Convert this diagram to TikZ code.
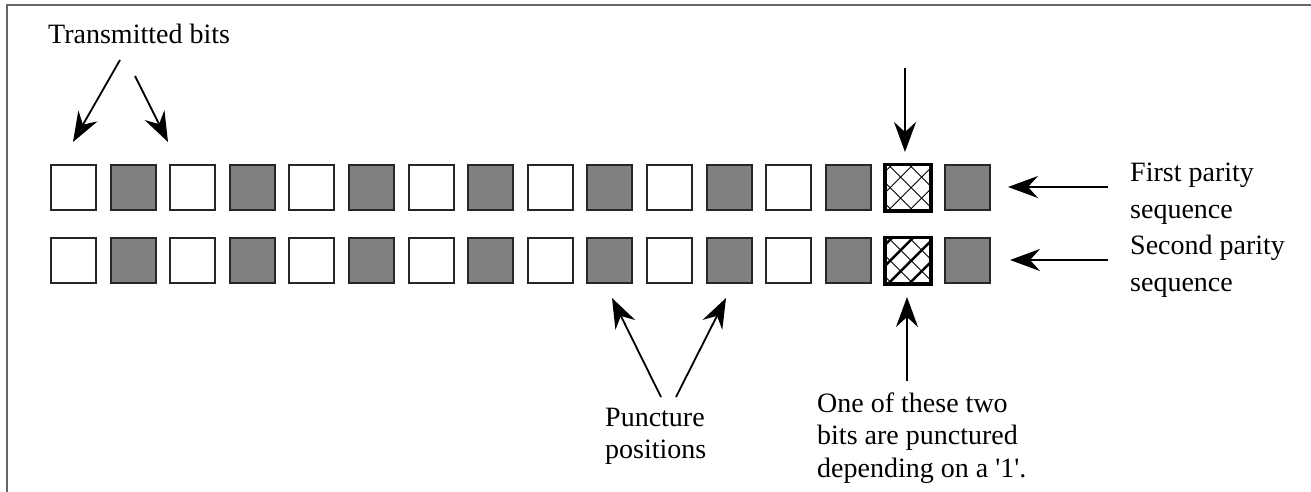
\documentclass[tikz,border=0pt]{standalone}
\usepackage{fontspec}
\setmainfont{Liberation Serif}
\usetikzlibrary{arrows.meta}
\begin{document}
\begin{tikzpicture}[x=1pt,y=-1pt,
  bitbox/.style={line width=2pt, draw=black!85, minimum size=45pt, inner sep=0pt, anchor=north west},
  zero/.style={bitbox, fill=white},
  one/.style={bitbox, fill=black!50},
  hatch/.style={bitbox, fill=white, line width=2.4pt, draw=black},
  ptr/.style={line width=1.8pt, -{Stealth[length=30pt,width=22pt,inset=10pt]}},
  lbl/.style={font=\fontsize{28}{32.5}\selectfont, inner sep=0pt, align=left, anchor=base west},
  lblw/.style={lbl, font=\fontsize{28}{36.5}\selectfont}]
\useasboundingbox (0,0) rectangle (1311,492);
\draw[line width=2pt, draw=black!60] (7,492) -- (7,5) -- (1311,5);
% bits
\foreach \i in {0,...,15}{
  \pgfmathsetmacro{\xx}{50+59.6*\i}
  \ifnum\i=14
    \node[hatch] (a\i) at (\xx,164) {};
    \node[hatch] (b\i) at (\xx,237) {};
  \else
    \ifodd\i
      \node[one] (a\i) at (\xx,164) {};
      \node[one] (b\i) at (\xx,237) {};
    \else
      \node[zero] (a\i) at (\xx,164) {};
      \node[zero] (b\i) at (\xx,237) {};
    \fi
  \fi
}
% hatching
\begin{scope}
  \clip (a14.north west) rectangle (a14.south east);
  \foreach \c in {-60,-39,...,60}{
    \draw[line width=0.9pt] ([xshift=\c pt]a14.north west) -- ++(60,60);
    \draw[line width=0.9pt] ([xshift=\c pt]a14.north east) -- ++(-60,60);
  }
\end{scope}
\begin{scope}
  \clip (b14.north west) rectangle (b14.south east);
  \foreach \c in {-60,-39,...,60}{
    \draw[line width=0.9pt] ([xshift=\c pt]b14.north west) -- ++(60,60);
    \draw[line width=2.4pt] ([xshift=\c pt]b14.north east) -- ++(-60,60);
  }
\end{scope}
\draw[hatch, fill=none] (a14.north west) rectangle (a14.south east);
\draw[hatch, fill=none] (b14.north west) rectangle (b14.south east);
% labels (base anchor = last line)
\node[lbl] (tb) at (48,44) {Transmitted bits};
\node[lblw] (fp) at (1130,218) {First parity\\sequence};
\node[lblw] (sp) at (1130,291) {Second parity\\sequence};
\node[lbl] (pp) at (605,458.5) {Puncture\\positions};
\node[lbl] (ot) at (817,477) {One of these two\\bits are punctured\\depending on a \textquotesingle 1\textquotesingle .};
% coordinates
\coordinate (t1s) at (120,60);  \coordinate (t1e) at (73,142);
\coordinate (t2s) at (135,76);  \coordinate (t2e) at (168,142);
\coordinate (ds) at (905,68);   \coordinate (de) at (905,152);
\coordinate (us) at (907,381);  \coordinate (ue) at (907,297);
\coordinate (r1s) at (1108,187); \coordinate (r1e) at (1008,187);
\coordinate (r2s) at (1108,260); \coordinate (r2e) at (1010,260);
\coordinate (p1s) at (661,397); \coordinate (p1e) at (612,298);
\coordinate (p2s) at (676,397); \coordinate (p2e) at (726,298);
\draw[ptr] (t1s) -- (t1e);
\draw[ptr] (t2s) -- (t2e);
\draw[ptr] (ds) -- (de);
\draw[ptr] (us) -- (ue);
\draw[ptr] (r1s) -- (r1e);
\draw[ptr] (r2s) -- (r2e);
\draw[ptr] (p1s) -- (p1e);
\draw[ptr] (p2s) -- (p2e);
\end{tikzpicture}
\end{document}
